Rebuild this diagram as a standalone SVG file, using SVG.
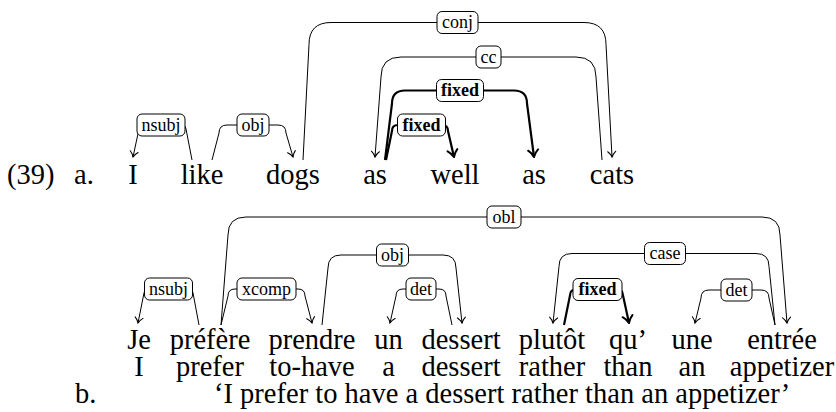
<svg xmlns="http://www.w3.org/2000/svg" width="836" height="412" viewBox="0 0 836 412" font-family="Liberation Serif">
<style>
.w{font-family:'Liberation Serif',serif;font-size:28.5px;fill:#000}
.m{text-anchor:middle}
.lb{font-family:'Liberation Serif',serif;font-size:18px;text-anchor:middle;fill:#000}
.bd{font-weight:bold}
.e{fill:none;stroke:#000;stroke-width:1}
.eb{fill:none;stroke:#000;stroke-width:2.2}
.box{fill:#fff;stroke:#000;stroke-width:1}
</style>
<defs>
<marker id="ar" viewBox="-7 -6 8 12" markerWidth="8" markerHeight="12" refX="0" refY="0" orient="auto" markerUnits="userSpaceOnUse">
<path d="M-5.5,-4 C-3.5,-1.6 -1,-0.4 0,0 C-1,0.4 -3.5,1.6 -5.5,4" fill="none" stroke="#000" stroke-width="1.1" stroke-linecap="round"/>
</marker>
<marker id="arb" viewBox="-9 -7 10 14" markerWidth="10" markerHeight="14" refX="0" refY="0" orient="auto" markerUnits="userSpaceOnUse">
<path d="M-7,-5 C-4.5,-2 -1.2,-0.5 0,0 C-1.2,0.5 -4.5,2 -7,5" fill="none" stroke="#000" stroke-width="2" stroke-linecap="round"/>
</marker>
</defs>

<g id="ex-number"><text class="w" x="7" y="184">(39)</text></g>
<g id="ex-a"><text class="w" x="74" y="184">a.</text></g>
<g id="ex-b"><text class="w" x="75" y="403">b.</text></g>

<g id="a-I"><text class="w m" x="133" y="184">I</text></g>
<g id="a-like"><text class="w m" x="202" y="184">like</text></g>
<g id="a-dogs"><text class="w m" x="293" y="184">dogs</text></g>
<g id="a-as1"><text class="w m" x="375" y="184">as</text></g>
<g id="a-well"><text class="w m" x="455" y="184">well</text></g>
<g id="a-as2"><text class="w m" x="534" y="184">as</text></g>
<g id="a-cats"><text class="w m" x="612" y="184">cats</text></g>

<g id="b-Je"><text class="w m" x="139" y="349">Je</text><text class="w m" x="139" y="376">I</text></g>
<g id="b-prefere"><text class="w m" x="210" y="349">préfère</text><text class="w m" x="210" y="376">prefer</text></g>
<g id="b-prendre"><text class="w m" x="312" y="349">prendre</text><text class="w m" x="312" y="376">to-have</text></g>
<g id="b-un"><text class="w m" x="388.5" y="349">un</text><text class="w m" x="388.5" y="376">a</text></g>
<g id="b-dessert"><text class="w m" x="461" y="349">dessert</text><text class="w m" x="461" y="376">dessert</text></g>
<g id="b-plutot"><text class="w m" x="552" y="349">plutôt</text><text class="w m" x="552" y="376">rather</text></g>
<g id="b-qu"><text class="w m" x="628" y="349">qu’</text><text class="w m" x="628" y="376">than</text></g>
<g id="b-une"><text class="w m" x="692" y="349">une</text><text class="w m" x="692" y="376">an</text></g>
<g id="b-entree"><text class="w m" x="782" y="349">entrée</text><text class="w m" x="782" y="376">appetizer</text></g>
<g id="b-translation"><text class="w" x="214" y="403">‘I prefer to have a dessert rather than an appetizer’</text></g>

<g id="connectors">
<g id="e-a-nsubj">
<path class="e" marker-end="url(#ar)" d="M192,160 L186,129 Q186,125 182,125 L143,125 Q139,125 139,129 L133,157"/>
<rect class="box" x="137" y="114" width="48" height="22" rx="5"/><text class="lb" x="161" y="130.5">nsubj</text>
</g>
<g id="e-a-obj">
<path class="e" marker-end="url(#ar)" d="M212,160 L219,133 Q219,125 227,125 L278,125 Q286,125 286,133 L293,157"/>
<rect class="box" x="237" y="114" width="32" height="22" rx="5"/><text class="lb" x="253" y="130.5">obj</text>
</g>
<g id="e-a-conj">
<path class="e" marker-end="url(#ar)" d="M303,160 L309,44.5 Q309,22.5 331,22.5 L584,22.5 Q606,22.5 606,44.5 L612,157"/>
<rect class="box" x="437" y="11.5" width="41" height="22" rx="5"/><text class="lb" x="457.5" y="28">conj</text>
</g>
<g id="e-a-cc">
<path class="e" marker-end="url(#ar)" d="M602,160 L596,77 Q596,57 576,57 L401,57 Q381,57 381,77 L375,157"/>
<rect class="box" x="476" y="46" width="25" height="22" rx="5"/><text class="lb" x="488.5" y="62.5">cc</text>
</g>
<g id="e-a-fixed2">
<path class="eb" marker-end="url(#arb)" d="M385,160 L392,103.5 Q392,90.5 405,90.5 L514,90.5 Q527,90.5 527,103.5 L534,157"/>
<rect class="box" x="436.5" y="79.5" width="47" height="22" rx="5"/><text class="lb bd" x="460" y="96">fixed</text>
</g>
<g id="e-a-fixed1">
<path class="eb" marker-end="url(#arb)" d="M386,160 L392,131 Q392,125 398,125 L442,125 Q448,125 448,131 L454,157"/>
<rect class="box" x="397.5" y="114" width="48" height="22" rx="5"/><text class="lb bd" x="421.5" y="130.5">fixed</text>
</g>
<g id="e-b-nsubj">
<path class="e" marker-end="url(#ar)" d="M199,325 L193,293 Q193,289 189,289 L148,289 Q144,289 144,293 L138,323"/>
<rect class="box" x="144.5" y="278" width="48" height="22" rx="5"/><text class="lb" x="168.5" y="294.5">nsubj</text>
</g>
<g id="e-b-xcomp">
<path class="e" marker-end="url(#ar)" d="M221,325 L228,296 Q228,289 235,289 L298,289 Q305,289 305,296 L312,323"/>
<rect class="box" x="237" y="278" width="59" height="22" rx="5"/><text class="lb" x="266.5" y="294.5">xcomp</text>
</g>
<g id="e-b-obl">
<path class="e" marker-end="url(#ar)" d="M221,325 L228,235 Q228,217 246,217 L762,217 Q780,217 780,235 L787,323"/>
<rect class="box" x="487" y="206" width="34" height="22" rx="5"/><text class="lb" x="504" y="222.5">obl</text>
</g>
<g id="e-b-obj">
<path class="e" marker-end="url(#ar)" d="M322,325 L328,268 Q328,255 341,255 L443,255 Q456,255 456,268 L462,323"/>
<rect class="box" x="376.5" y="244" width="32" height="22" rx="5"/><text class="lb" x="392.5" y="260.5">obj</text>
</g>
<g id="e-b-det1">
<path class="e" marker-end="url(#ar)" d="M452,325 L446,296 Q446,289 439,289 L403,289 Q396,289 396,296 L390,323"/>
<rect class="box" x="406" y="278" width="30" height="22" rx="5"/><text class="lb" x="421" y="294.5">det</text>
</g>
<g id="e-b-case">
<path class="e" marker-end="url(#ar)" d="M775,325 L769,266.5 Q769,253.5 756,253.5 L572,253.5 Q559,253.5 559,266.5 L553,323"/>
<rect class="box" x="644.5" y="242.5" width="41" height="22" rx="5"/><text class="lb" x="665" y="259">case</text>
</g>
<g id="e-b-fixed">
<path class="eb" marker-end="url(#arb)" d="M564,325 L570,295.5 Q570,289.5 576,289.5 L617,289.5 Q623,289.5 623,295.5 L629,323"/>
<rect class="box" x="573" y="278.5" width="49" height="22" rx="5"/><text class="lb bd" x="597.5" y="295">fixed</text>
</g>
<g id="e-b-det2">
<path class="e" marker-end="url(#ar)" d="M775,325 L769,298 Q769,290 761,290 L709,290 Q701,290 701,298 L695,323"/>
<rect class="box" x="721" y="279" width="31" height="22" rx="5"/><text class="lb" x="736.5" y="295.5">det</text>
</g>
</g>
</svg>
